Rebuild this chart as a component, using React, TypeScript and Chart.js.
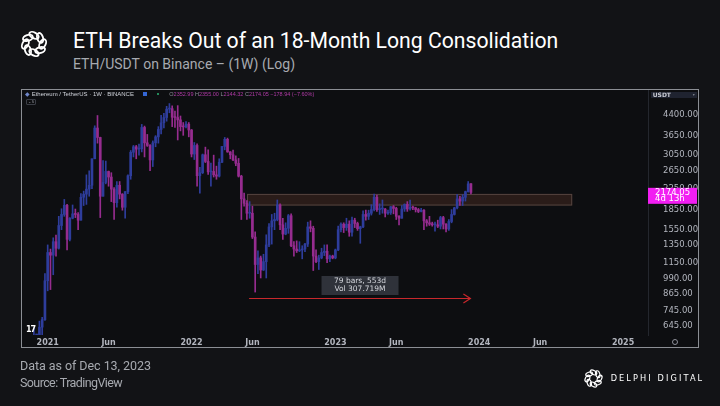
import { useEffect, useRef } from 'react';
import { Chart, registerables } from 'chart.js';

Chart.register(...registerables);

// Weekly candles (Binance ETH/USDT, 1W). Week index counted from the week of 4 Jan 2021.
const firstWeek = -5; // week of 30 Nov 2020

const opens = [
  575, 586, 590, 640, 685, 975, 1260, 1230, 1390, 1310,
  1610, 1780, 1935, 1420, 1720, 1790, 1780, 1690, 2080, 2140,
  2240, 2320, 2950, 3900, 3580, 2100, 2380, 2630, 2500, 2240,
  1980, 2320, 2140, 1900, 2190, 2530, 3130, 3290, 3220, 3230,
  3920, 3410, 3330, 2920, 3410, 3600, 3850, 4090, 4290, 4630,
  4650, 4300, 4290, 4200, 3950, 3940, 4040, 3830, 3080, 3330,
  2530, 2600, 3060, 2880, 2620, 2630, 2550, 2520, 2860, 3300,
  3520, 3140, 3060, 2920, 2830, 2520, 2050, 1970, 1800, 1800,
  1450, 1130, 1200, 1075, 1160, 1350, 1590, 1680, 1700, 1940,
  1620, 1490, 1570, 1760, 1340, 1300, 1280, 1290, 1300, 1360,
  1590, 1570, 1220, 1160, 1200, 1260, 1275, 1190, 1220, 1200,
  1290, 1550, 1630, 1580, 1630, 1515, 1690, 1640, 1565, 1590,
  1780, 1750, 1800, 1860, 2080, 1860, 1870, 1870, 1800, 1810,
  1910, 1880, 1750, 1720, 1870, 1950, 1870, 1900, 1890, 1860,
  1830, 1850, 1680, 1650, 1630, 1620, 1620, 1600, 1730, 1630,
  1560, 1670, 1780, 1890, 2050, 2010, 2080, 2190, 2352.99,
];

const highs = [
  636, 600, 676, 700, 1040, 1350, 1300, 1440, 1475, 1750,
  1875, 2040, 1950, 1730, 1940, 1870, 1810, 2150, 2200, 2550,
  2645, 2950, 3980, 4370, 3590, 2900, 2890, 2640, 2600, 2270,
  2400, 2400, 2150, 2190, 2550, 3180, 3330, 3330, 3370, 4030,
  3970, 3680, 3360, 3470, 3640, 3950, 4380, 4460, 4750, 4870,
  4770, 4550, 4780, 4350, 4100, 4140, 4100, 3850, 3420, 3380,
  2730, 3080, 3280, 3200, 2840, 3050, 2760, 2950, 3300, 3580,
  3560, 3150, 3190, 3030, 2960, 2540, 2160, 2020, 2000, 1920,
  1520, 1280, 1220, 1240, 1480, 1640, 1780, 1800, 2030, 1960,
  1720, 1650, 1780, 1790, 1390, 1400, 1390, 1340, 1370, 1660,
  1680, 1600, 1290, 1230, 1310, 1350, 1350, 1230, 1230, 1300,
  1600, 1650, 1650, 1720, 1680, 1740, 1720, 1660, 1600, 1840,
  1850, 1850, 1945, 2140, 2120, 1960, 2030, 1880, 1850, 1915,
  1930, 1900, 1760, 1930, 1960, 2000, 2030, 1920, 1900, 1880,
  1880, 1860, 1700, 1750, 1660, 1660, 1690, 1750, 1750, 1640,
  1700, 1860, 1900, 2130, 2100, 2130, 2200, 2400, 2355.0,
];

const lows = [
  553, 533, 576, 560, 680, 890, 900, 1030, 1220, 1300,
  1550, 1750, 1290, 1400, 1710, 1730, 1550, 1690, 1930, 1950,
  2100, 2250, 2950, 3400, 1730, 2100, 2350, 2300, 2000, 1700,
  1900, 2050, 1850, 1720, 2150, 2450, 3000, 2950, 3050, 3140,
  3000, 3300, 2650, 2750, 3290, 3400, 3700, 3900, 4150, 4480,
  3950, 3920, 3500, 3800, 3650, 3900, 3600, 3000, 2930, 2300,
  2160, 2580, 2850, 2560, 2300, 2500, 2450, 2500, 2850, 3200,
  3130, 2950, 2900, 2770, 2500, 1700, 1920, 1700, 1720, 1430,
  880, 1040, 1000, 1070, 1000, 1330, 1360, 1550, 1680, 1550,
  1420, 1480, 1500, 1330, 1220, 1260, 1270, 1190, 1270, 1330,
  1520, 1070, 1150, 1080, 1190, 1225, 1150, 1160, 1190, 1190,
  1280, 1520, 1510, 1540, 1460, 1460, 1580, 1540, 1370, 1580,
  1690, 1700, 1770, 1840, 1830, 1780, 1800, 1740, 1780, 1780,
  1790, 1700, 1620, 1720, 1830, 1830, 1850, 1860, 1820, 1810,
  1820, 1550, 1600, 1610, 1600, 1530, 1580, 1560, 1560, 1520,
  1540, 1650, 1770, 1870, 1930, 1930, 2010, 2180, 2144.32,
];

const closes = [
  586, 590, 640, 685, 975, 1260, 1230, 1390, 1310, 1610,
  1780, 1935, 1420, 1720, 1790, 1780, 1690, 2080, 2140, 2240,
  2320, 2950, 3900, 3580, 2100, 2380, 2630, 2500, 2240, 1980,
  2320, 2140, 1900, 2190, 2530, 3130, 3290, 3220, 3230, 3920,
  3410, 3330, 2920, 3410, 3600, 3850, 4090, 4290, 4630, 4650,
  4300, 4290, 4200, 3950, 3940, 4040, 3830, 3080, 3330, 2530,
  2600, 3060, 2880, 2620, 2630, 2550, 2520, 2860, 3300, 3520,
  3140, 3060, 2920, 2830, 2520, 2050, 1970, 1800, 1800, 1450,
  1130, 1200, 1075, 1160, 1350, 1590, 1680, 1700, 1940, 1620,
  1490, 1570, 1760, 1340, 1300, 1280, 1290, 1300, 1360, 1590,
  1570, 1220, 1160, 1200, 1260, 1275, 1190, 1220, 1200, 1290,
  1550, 1630, 1580, 1630, 1515, 1690, 1640, 1565, 1590, 1780,
  1750, 1800, 1860, 2080, 1860, 1870, 1870, 1800, 1810, 1910,
  1880, 1750, 1720, 1870, 1950, 1870, 1900, 1890, 1860, 1830,
  1850, 1680, 1650, 1630, 1620, 1620, 1600, 1730, 1630, 1560,
  1670, 1780, 1890, 2050, 2010, 2080, 2190, 2350, 2174.05,
];

const timeTickWeeks = [0, 22, 52, 74, 104, 126, 156, 178, 208];
const timeTickLabels = ['2021', 'Jun', '2022', 'Jun', '2023', 'Jun', '2024', 'Jun', '2025'];
const priceTicks = [645, 745, 865, 990, 1150, 1350, 1550, 1850, 2250, 2650, 3050, 3650, 4400];

const viewMinWeek = -9.29;
const viewMaxWeek = 217.0;
const viewMinPrice = 596;
const viewMaxPrice = 5508;

// consolidation range box
const boxStartWeek = 72.05;
const boxEndWeek = 189.6;
const boxLowPrice = 1930;
const boxHighPrice = 2145;

// measuring arrow
const arrowStartWeek = 72.8;
const arrowEndWeek = 152.8;
const arrowPrice = 836;
const measureWeek = 112.9;
const measurePrice = 934;
const measureLines = ['79 bars, 553d', 'Vol 307.719M'];

const lastClose = 2174.05;
const lastTagLines = ['2174.05', '4d 13h'];

const UP = '#2e3d9c';
const DOWN = '#962c8f';
const AXIS_TEXT = '#b2b5be';

const overlayPlugin = {
  id: 'overlay',
  beforeDatasetsDraw(chart: any) {
    const { ctx, scales } = chart;
    const x = scales.x;
    const y = scales.y;
    const x0 = x.getPixelForValue(boxStartWeek);
    const x1 = x.getPixelForValue(boxEndWeek);
    const yt = y.getPixelForValue(boxHighPrice);
    const yb = y.getPixelForValue(boxLowPrice);
    ctx.save();
    ctx.fillStyle = '#2a1c19';
    ctx.fillRect(x0, yt, x1 - x0, yb - yt);
    ctx.strokeStyle = '#54443f';
    ctx.lineWidth = 1;
    ctx.strokeRect(x0 + 0.5, yt + 0.5, x1 - x0 - 1, yb - yt - 1);
    ctx.restore();
  },
  afterDatasetsDraw(chart: any) {
    const { ctx, scales } = chart;
    const x = scales.x;
    const y = scales.y;
    const ax0 = x.getPixelForValue(arrowStartWeek);
    const ax1 = x.getPixelForValue(arrowEndWeek);
    const ay = Math.round(y.getPixelForValue(arrowPrice)) + 0.5;
    ctx.save();
    ctx.strokeStyle = '#c8282c';
    ctx.lineWidth = 1.2;
    ctx.beginPath();
    ctx.moveTo(ax0, ay);
    ctx.lineTo(ax1, ay);
    ctx.moveTo(ax1 - 7, ay - 4.5);
    ctx.lineTo(ax1, ay);
    ctx.lineTo(ax1 - 7, ay + 4.5);
    ctx.stroke();
    const mx = x.getPixelForValue(measureWeek);
    const my = y.getPixelForValue(measurePrice);
    const w = 77;
    const h = 19;
    ctx.fillStyle = 'rgba(50,53,61,0.95)';
    ctx.fillRect(mx - w / 2, my - h / 2, w, h);
    ctx.fillStyle = '#d6d8de';
    ctx.font = '7.5px "DejaVu Sans"';
    ctx.textAlign = 'center';
    ctx.textBaseline = 'middle';
    ctx.fillText(measureLines[0], mx, my - 4);
    ctx.fillText(measureLines[1], mx, my + 4);
    ctx.restore();
  },
  afterDraw(chart: any) {
    const { ctx, scales, chartArea } = chart;
    const y = scales.y;
    const py = y.getPixelForValue(lastClose);
    ctx.save();
    ctx.fillStyle = '#f21ef2';
    ctx.fillRect(chartArea.right, py - 4.6, 49, 16);
    ctx.fillStyle = '#ffffff';
    ctx.font = '8.5px "DejaVu Sans"';
    ctx.textAlign = 'left';
    ctx.textBaseline = 'middle';
    ctx.fillText(lastTagLines[0], chartArea.right + 7, py + 0.4);
    ctx.fillText(lastTagLines[1], chartArea.right + 7, py + 6.8);
    ctx.restore();
  },
};

function Logo({ size, stroke }: { size: number; stroke: number }) {
  const links = [0, 1, 2, 3, 4, 5, 6, 7];
  return (
    <svg width={size} height={size} viewBox="-16 -16 32 32" style={{ display: 'block' }}>
      {links.map((k) => (
        <ellipse
          key={k}
          cx={0}
          cy={-9.2}
          rx={5.4}
          ry={3.1}
          transform={`rotate(${k * 45}) rotate(28 0 -9.2)`}
          fill="none"
          stroke="#ffffff"
          strokeWidth={stroke}
        />
      ))}
    </svg>
  );
}

function CandleChart() {
  const ref = useRef<HTMLCanvasElement | null>(null);
  useEffect(() => {
    if (!ref.current) return;
    const colors = opens.map((o, i) => (closes[i] >= o ? UP : DOWN));
    const chart = new Chart(ref.current, {
      type: 'bar',
      data: {
        datasets: [
          {
            data: opens.map((_, i) => ({ x: firstWeek + i, y: [lows[i], highs[i]] })) as any,
            backgroundColor: colors,
            barThickness: 1,
            grouped: false,
            order: 2,
          } as any,
          {
            data: opens.map((o, i) => ({ x: firstWeek + i, y: [o, closes[i]] })) as any,
            backgroundColor: colors,
            barThickness: 2,
            minBarLength: 1,
            grouped: false,
            order: 1,
          } as any,
        ],
      },
      options: {
        animation: false,
        responsive: false,
        maintainAspectRatio: false,
        layout: { padding: 0 },
        plugins: { legend: { display: false }, tooltip: { enabled: false } },
        scales: {
          x: {
            type: 'linear',
            min: viewMinWeek,
            max: viewMaxWeek,
            offset: false,
            grid: { display: false },
            border: { display: false },
            ticks: {
              autoSkip: false,
              maxRotation: 0,
              padding: -5,
              color: AXIS_TEXT,
              font: { family: 'DejaVu Sans', size: 8, weight: 'bold' },
              callback: (v: any) => {
                const k = timeTickWeeks.indexOf(Number(v));
                return k >= 0 ? timeTickLabels[k] : '';
              },
            },
            afterBuildTicks: (s: any) => {
              s.ticks = timeTickWeeks.map((v) => ({ value: v }));
            },
            afterFit: (s: any) => {
              s.height = 12;
              s.paddingLeft = 0;
              s.paddingRight = 0;
            },
          } as any,
          y: {
            type: 'logarithmic',
            position: 'right',
            min: viewMinPrice,
            max: viewMaxPrice,
            grid: { display: false },
            border: { display: true, color: '#24272e' },
            ticks: {
              autoSkip: false,
              padding: 7,
              color: AXIS_TEXT,
              font: { family: 'DejaVu Sans', size: 8.5 },
              callback: (v: any) => Number(v).toFixed(2),
            },
            afterBuildTicks: (s: any) => {
              s.ticks = priceTicks.map((v) => ({ value: v }));
            },
            afterFit: (s: any) => {
              s.width = 50;
              s.paddingTop = 0;
              s.paddingBottom = 0;
            },
          } as any,
        },
      },
      plugins: [overlayPlugin],
    });
    return () => chart.destroy();
  }, []);
  return <canvas ref={ref} width={676} height={257} style={{ position: 'absolute', left: 0, top: 0, width: 676, height: 257 }} />;
}

export default function App() {
  const abs = (l: number, t: number, extra: any = {}) => ({ position: 'absolute' as const, left: l, top: t, whiteSpace: 'nowrap' as const, ...extra });
  return (
    <div style={{ position: 'absolute', left: 0, top: 0, width: 720, height: 406, background: '#121316', overflow: 'hidden', fontFamily: 'Roboto, sans-serif' }}>
      <div style={abs(19, 29)}>
        <Logo size={30} stroke={2} />
      </div>
      <div style={abs(73, 30.2, { color: '#ffffff', fontSize: 21.2, lineHeight: '21.2px', fontWeight: 400 })}>
        ETH Breaks Out of an 18-Month Long Consolidation
      </div>
      <div style={abs(73, 57.2, { color: '#a7aab0', fontSize: 14, lineHeight: '14px' })}>
        ETH/USDT on Binance – (1W) (Log)
      </div>

      <div style={{ position: 'absolute', left: 21, top: 89, width: 676, height: 257, border: '1px solid #8b8e94', background: '#0d0e11' }}>
        <CandleChart />
        <div style={abs(3, 0.6, { fontFamily: '"Liberation Sans", Arial, sans-serif', fontSize: 6, lineHeight: '6px', color: '#d1d4dc' })}>
          <span style={{ color: '#6f86c9' }}>◆</span> Ethereum / TetherUS · 1W · BINANCE
        </div>
        <div style={abs(121.3, 2.2, { width: 3.5, height: 3.5, background: '#3567d6' })} />
        <div style={abs(135.3, 2.6, { width: 2.2, height: 2.2, borderRadius: 2, background: '#2bb673' })} />
        <div style={abs(147.3, 0.9, { fontFamily: '"Liberation Sans", Arial, sans-serif', fontSize: 5.5, lineHeight: '6px', color: '#b03aa6' })}>
          <span style={{ color: '#8e909a' }}>O</span>2352.99 <span style={{ color: '#8e909a' }}>H</span>2355.00{' '}
          <span style={{ color: '#8e909a' }}>L</span>2144.32 <span style={{ color: '#8e909a' }}>C</span>2174.05 −178.94 (−7.60%)
        </div>
        <div style={abs(4, 9.3, { width: 8, height: 4, border: '0.5px solid #3a3d45', borderRadius: 1, fontSize: 4, lineHeight: '4px', color: '#9a9ca4', textAlign: 'center' })}>
          ⌄ 5
        </div>
        <div style={abs(628.7, 2.3, { width: 46, height: 5.6, background: '#1f2330', fontFamily: '"DejaVu Sans", sans-serif', fontSize: 6, lineHeight: '5.6px', fontWeight: 'bold', color: '#c9ccd4' })}>
          <span style={{ marginLeft: 2 }}>USDT</span>
          <span style={{ position: 'absolute', right: 2, top: 0, fontSize: 4, color: '#7d808a' }}>▾</span>
        </div>
        <div style={abs(4, 236, { fontFamily: '"DejaVu Sans", sans-serif', fontSize: 8, lineHeight: '8px', fontWeight: 'bold', color: '#ffffff', letterSpacing: '-1px' })}>
          17
        </div>
        <div style={abs(650, 249, { width: 3.5, height: 3.5, border: '0.8px solid #8e909a', borderRadius: 3 })} />
      </div>

      <div style={abs(20, 360.3, { color: '#a7aab0', fontSize: 12.5, lineHeight: '12.5px', letterSpacing: '-0.05px' })}>
        Data as of Dec 13, 2023
      </div>
      <div style={abs(20, 376.9, { color: '#a7aab0', fontSize: 12.5, lineHeight: '12.5px', letterSpacing: '-0.6px' })}>
        Source: TradingView
      </div>
      <div style={abs(582.5, 367.5)}>
        <Logo size={21} stroke={1.8} />
      </div>
      <div style={abs(610.7, 374, { color: '#ffffff', fontSize: 8.2, lineHeight: '8px', letterSpacing: '2.1px', fontFamily: '"DejaVu Sans", sans-serif' })}>
        DELPHI DIGITAL
      </div>
    </div>
  );
}
